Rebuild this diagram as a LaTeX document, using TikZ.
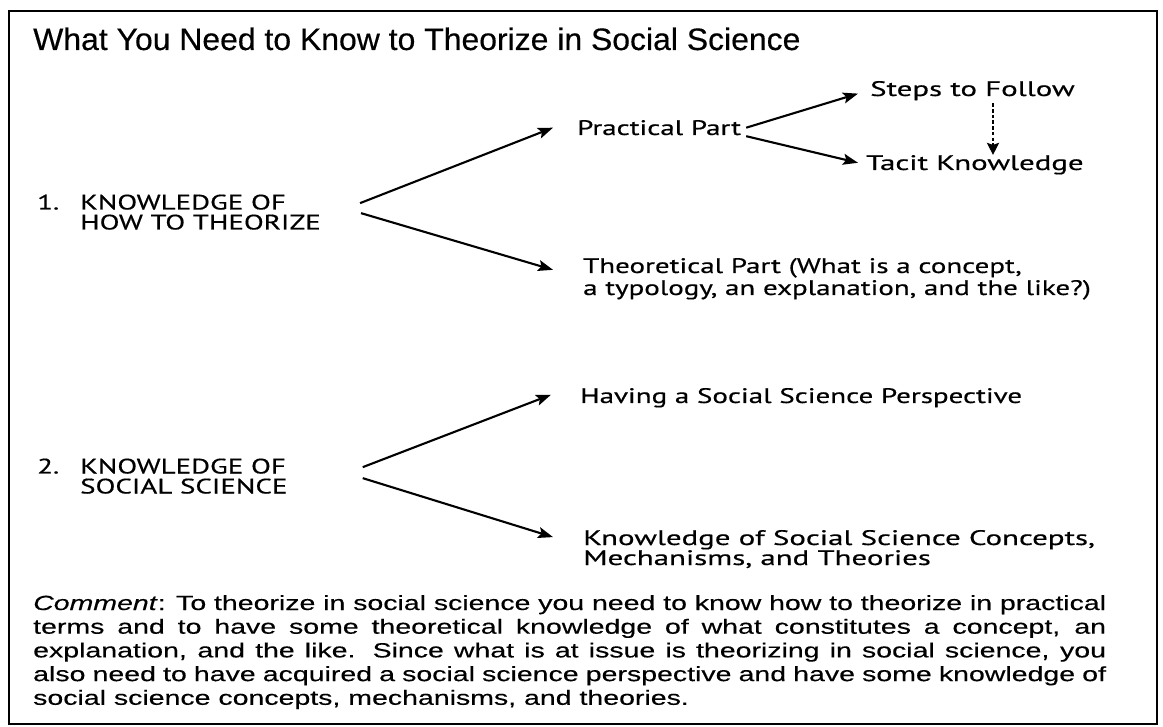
\documentclass[tikz,border=0pt]{standalone}
\usepackage{fontspec}
\usetikzlibrary{arrows.meta}
\newfontfamily\titlefont{Liberation Sans}[FakeStretch=1.03,FakeBold=0.4]
\newfontfamily\labfont{PT Sans}[FakeStretch=1.38,FakeBold=0.5]
\newfontfamily\labfontw{PT Sans}[FakeStretch=1.47,FakeBold=0.5]
\newfontfamily\comfont{Liberation Sans}[FakeStretch=1.39,FakeBold=0.3]
\tikzset{
  lab/.style={inner sep=0pt, anchor=base west, align=left,
    font=\labfont\fontsize{21}{20}\selectfont},
  labw/.style={lab, font=\labfontw\fontsize{21}{20}\selectfont},
  arr/.style={line width=2.1pt, -{Stealth[length=15pt,width=11pt,inset=3pt]}},
  dotarr/.style={line width=2.4pt, dash pattern=on 3.5pt off 2.2pt,
    -{Stealth[length=12pt,width=12pt,inset=2pt]}},
  frame/.style={line width=1.6pt},
}
\begin{document}
\begin{tikzpicture}[x=1pt,y=-1pt]
\useasboundingbox (0,0) rectangle (1163,727);
\draw[frame] (9,11) rectangle (1157,724);
\draw[line width=2.8pt] (9,11) -- (9,724);

\node[inner sep=0pt, anchor=base west, font=\titlefont\fontsize{31}{32}\selectfont] (title) at (33,50)
  {What You Need to Know to Theorize in Social Science};

\node[lab] (n1) at (37,209.5) {1.};
\node[lab] (k1) at (80,229.5) {KNOWLEDGE OF\\HOW TO THEORIZE};
\node[lab] (prac) at (577,135) {Practical Part};
\node[labw] (steps) at (870,96) {Steps to Follow};
\node[labw] (tacit) at (866,170) {Tacit Knowledge};
\node[lab, font=\labfont\fontsize{21}{22}\selectfont] (theo) at (583,295) {Theoretical Part (What is a concept,\\a typology, an explanation, and the like?)};

\node[lab] (n2) at (37,473.5) {2.};
\node[lab] (k2) at (80,493.5) {KNOWLEDGE OF\\SOCIAL SCIENCE};
\node[lab] (hav) at (580,403) {Having a Social Science Perspective};
\node[labw] (ksc) at (583,565) {Knowledge of Social Science Concepts,\\Mechanisms, and Theories};

\draw[arr] ([xshift=39pt,yshift=9pt]k1.east) -- ([xshift=-24pt,yshift=0pt]prac.west);
\draw[arr] ([xshift=40pt,yshift=-1pt]k1.east) -- ([xshift=-30pt,yshift=9pt]theo.west);
\draw[arr] ([xshift=5pt,yshift=0pt]prac.east) -- ([xshift=-12pt,yshift=-3pt]steps.west);
\draw[arr] ([xshift=5pt,yshift=-8.5pt]prac.east) -- ([xshift=-8pt,yshift=2pt]tacit.west);
\draw[dotarr] ([xshift=123pt,yshift=-3pt]steps.south west) -- ([xshift=127pt,yshift=0pt]tacit.north west);
\draw[arr] ([xshift=75pt,yshift=9pt]k2.east) -- ([xshift=-29pt,yshift=3pt]hav.west);
\draw[arr] ([xshift=75pt,yshift=-2pt]k2.east) -- ([xshift=-30pt,yshift=12pt]ksc.west);

\node[inner sep=0pt, anchor=base west, font=\comfont\fontsize{20.5}{23.7}\selectfont] (com) at (33,610)
 {\parbox[t]{1073pt}{\hyphenpenalty=10000\tolerance=10000\parindent=0pt\hbadness=10000
 \textit{Comment}: To theorize in social science you need to know how to theorize in practical\linebreak
 terms and to have some theoretical knowledge of what constitutes a concept, an\linebreak
 explanation, and the like. Since what is at issue is theorizing in social science, you\linebreak
 also need to have acquired a social science perspective and have some knowledge of\linebreak
 social science concepts, mechanisms, and theories.}};
\end{tikzpicture}
\end{document}
